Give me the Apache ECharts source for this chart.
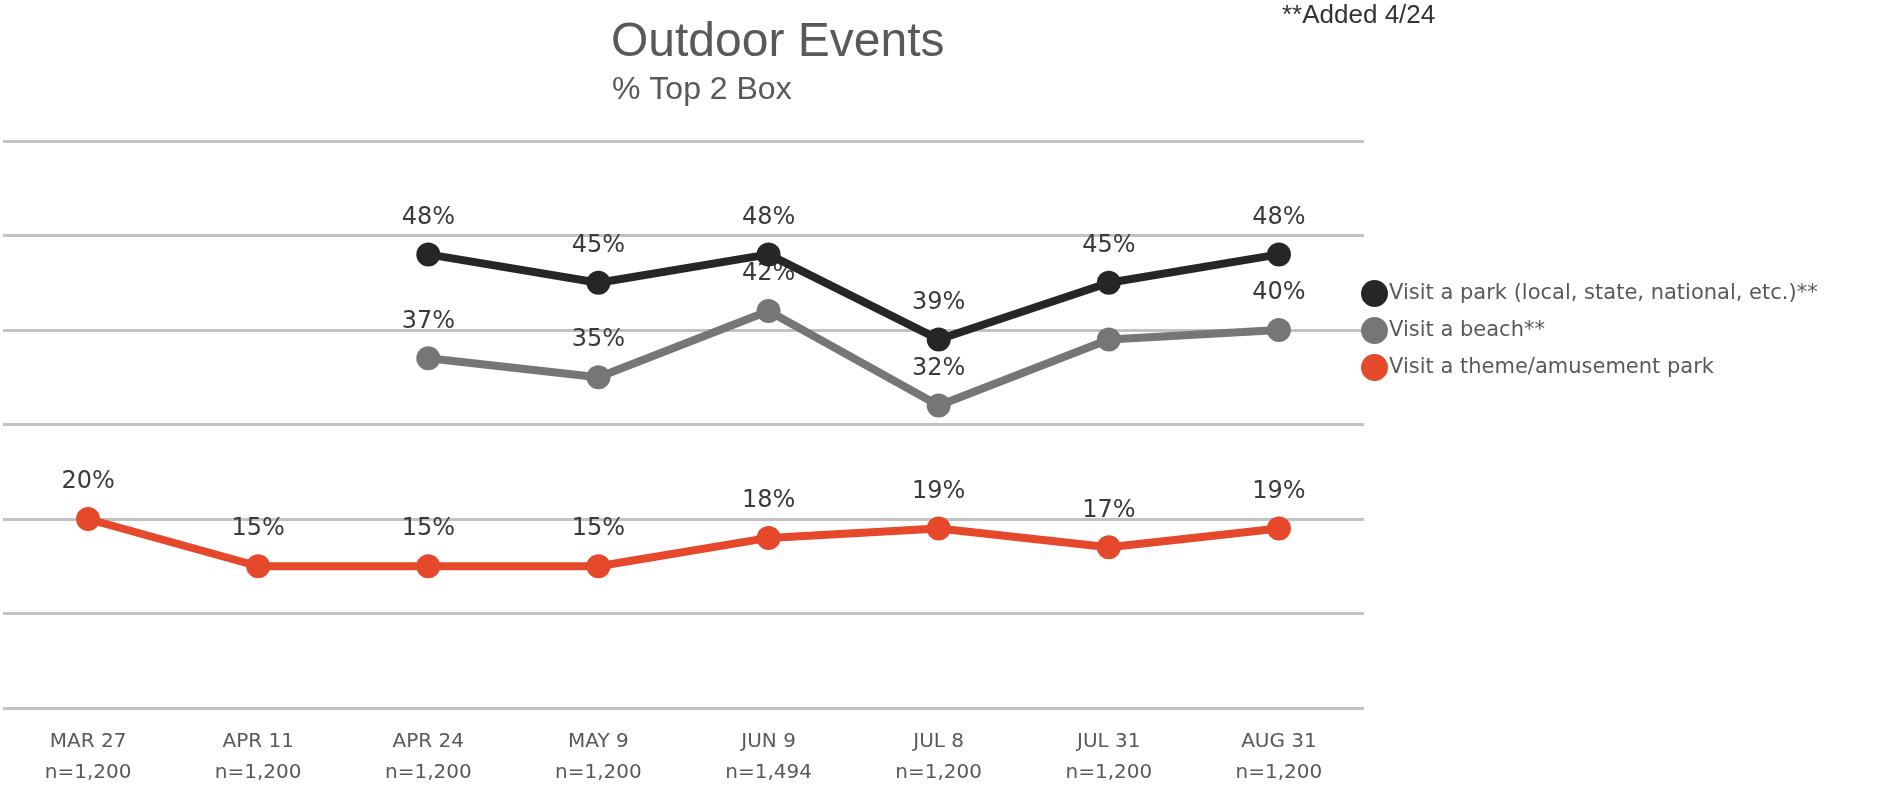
<!DOCTYPE html>
<html>
<head>
<meta charset="utf-8">
<title>Outdoor Events</title>
<script src="https://cdn.jsdelivr.net/npm/echarts@6/dist/echarts.min.js"></script>
<style>
  html, body { margin: 0; padding: 0; background: #ffffff; }
  #chart { width: 1879px; height: 786px; }
</style>
</head>
<body>
<div id="chart"></div>
<script>
// Survey waves (date + sample size)
const waveDates = ['MAR 27', 'APR 11', 'APR 24', 'MAY 9', 'JUN 9', 'JUL 8', 'JUL 31', 'AUG 31'];
const waveSizes = ['n=1,200', 'n=1,200', 'n=1,200', 'n=1,200', 'n=1,494', 'n=1,200', 'n=1,200', 'n=1,200'];

// % Top 2 Box per activity (null = not asked in that wave)
const parkValues  = [null, null, 48, 45, 48, 39, 45, 48];
const beachValues = [null, null, 37, 35, 42, 32, 39, 40];
const themeValues = [20, 15, 15, 15, 18, 19, 17, 19];

// Waves whose point label is left off
const beachHiddenLabels = ['JUL 31'];

const seriesNames = [
  'Visit a park (local, state, national, etc.)**',
  'Visit a beach**',
  'Visit a theme/amusement park'
];
const seriesColors = ['#262626', '#767676', '#E5482B'];

const categories = waveDates.map((d, i) => d + '\n' + waveSizes[i]);

const labelStyle = {
  show: true,
  position: 'top',
  distance: 13,
  formatter: p => p.value + '%',
  fontFamily: 'DejaVu Sans',
  fontSize: 24,
  color: '#3a3a3a'
};

function makeSeries(name, values, color, z, hidden) {
  return {
    name: name,
    type: 'line',
    z: z,
    data: values.map((v, i) => {
      if (hidden && hidden.indexOf(waveDates[i]) >= 0) {
        return { value: v, label: { show: false } };
      }
      return v;
    }),
    symbol: 'circle',
    symbolSize: 24,
    showSymbol: true,
    connectNulls: false,
    lineStyle: { color: color, width: 8 },
    itemStyle: { color: color },
    label: labelStyle,
    emphasis: { disabled: true },
    animation: false
  };
}

const chart = echarts.init(document.getElementById('chart'), null, { renderer: 'canvas' });

chart.setOption({
  backgroundColor: '#ffffff',
  animation: false,
  title: [
    {
      text: 'Outdoor Events',
      left: 611, top: 19, padding: 0,
      textStyle: { fontFamily: 'Liberation Sans', fontSize: 48, fontWeight: 'normal', color: '#595959' }
    },
    {
      text: '% Top 2 Box',
      left: 612, top: 74, padding: 0,
      textStyle: { fontFamily: 'Liberation Sans', fontSize: 32, fontWeight: 'normal', color: '#595959' }
    },
    {
      text: '**Added 4/24',
      left: 1282, top: 3, padding: 0,
      textStyle: { fontFamily: 'Liberation Sans', fontSize: 26, fontWeight: 'normal', color: '#333333' }
    }
  ],
  legend: {
    orient: 'vertical',
    left: 1361,
    top: 280,
    padding: 0,
    icon: 'circle',
    itemWidth: 27,
    itemHeight: 27,
    itemGap: 10,
    selectedMode: false,
    data: seriesNames,
    textStyle: { fontFamily: 'DejaVu Sans', fontSize: 21, color: '#595959', padding: [0, 0, 0, -4] }
  },
  grid: { left: 3, right: 515, top: 141, bottom: 78, containLabel: false, outerBoundsMode: 'none' },
  xAxis: {
    type: 'category',
    data: categories,
    boundaryGap: true,
    axisLine: { show: false },
    axisTick: { show: false },
    axisLabel: {
      margin: 18,
      fontFamily: 'DejaVu Sans',
      fontSize: 20,
      lineHeight: 31,
      color: '#595959'
    }
  },
  yAxis: {
    type: 'value',
    min: 0,
    max: 60,
    interval: 10,
    axisLabel: { show: false },
    axisLine: { show: false },
    axisTick: { show: false },
    splitLine: { lineStyle: { color: '#c2c2c2', width: 3 } }
  },
  series: [
    makeSeries(seriesNames[0], parkValues, seriesColors[0], 4),
    makeSeries(seriesNames[1], beachValues, seriesColors[1], 3, beachHiddenLabels),
    makeSeries(seriesNames[2], themeValues, seriesColors[2], 2)
  ]
});
</script>
</body>
</html>
